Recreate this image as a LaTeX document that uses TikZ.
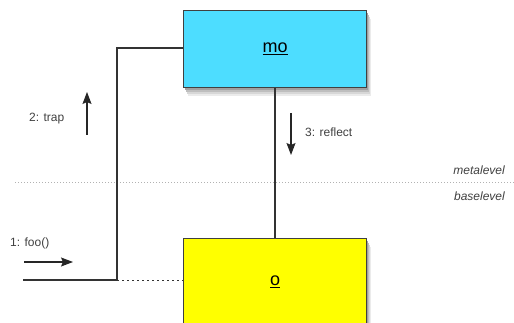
\documentclass[tikz,border=0pt]{standalone}
\usepackage{fontspec}
\setmainfont{Liberation Sans}
\usetikzlibrary{arrows.meta}
\definecolor{shA}{RGB}{235,235,235}
\definecolor{shB}{RGB}{215,215,215}
\definecolor{shC}{RGB}{190,190,190}
\definecolor{shD}{RGB}{160,160,160}
\definecolor{metacyan}{RGB}{77,221,255}
\definecolor{baseyellow}{RGB}{255,255,0}
\begin{document}
\begin{tikzpicture}[x=1pt,y=-1pt,
  obj/.style={draw=black!75,line width=1.2pt,minimum width=183pt,inner sep=0pt},
  lbl/.style={font=\fontsize{12}{14}\selectfont,text=black!75,inner sep=0pt},
  conn/.style={draw=black!80,line width=1.3pt},
  msg/.style={draw=black!85,line width=1.2pt,-{Stealth[length=12pt,width=9pt,inset=2pt]}}]
\useasboundingbox (0,0) rectangle (514,323);
% level separator
\draw[black!30,dotted,line width=1pt] (15,183) -- (514,183);
\node[lbl,anchor=base east,font=\itshape\fontsize{12}{14}\selectfont] (meta) at (505,175) {metalevel};
\node[lbl,anchor=base east,font=\itshape\fontsize{12}{14}\selectfont] (base) at (505,201) {baselevel};
% shadows
\fill[shA] (188,19) rectangle (371,96);
\fill[shB] (187,17) rectangle (370,94);
\fill[shC] (186,15) rectangle (369,92);
\fill[shD] (185,13) rectangle (368,90);
\fill[shA] (188,247) rectangle (371,326);
\fill[shB] (187,245) rectangle (370,326);
\fill[shC] (186,243) rectangle (369,326);
\fill[shD] (185,241) rectangle (368,326);
% objects
\node[obj,fill=metacyan,minimum height=77pt,anchor=north west] (mo) at (183,10)
  {\fontsize{18}{21}\selectfont\underline{mo}};
\node[obj,fill=baseyellow,minimum height=86pt,anchor=north west] (o) at (183,238)
  {\fontsize{18}{21}\selectfont\underline{o}};
% connectors
\coordinate (start) at (23,280);
\coordinate (corner) at (117,280);
\coordinate (top) at (117,48);
\draw[conn] (start) -- (corner) -- (top) -- (top -| mo.west);
\draw[conn,dash pattern=on 2pt off 3pt,line width=0.9pt] (corner) -- (o.west |- corner);
\draw[conn] (mo.south) -- (o.north);
% messages
\coordinate (f1) at (24,262); \coordinate (f2) at (73,262);
\draw[msg] (f1) -- (f2);
\node[lbl,anchor=base west] (foo) at (10,247) {1: foo()};
\coordinate (t1) at (87,135); \coordinate (t2) at (87,92);
\draw[msg] (t1) -- (t2);
\node[lbl,anchor=base west] (trap) at (29,122) {2: trap};
\coordinate (r1) at (291,113); \coordinate (r2) at (291,155);
\draw[msg] (r1) -- (r2);
\node[lbl,anchor=base west] (reflect) at (305,137) {3: reflect};
\end{tikzpicture}
\end{document}
